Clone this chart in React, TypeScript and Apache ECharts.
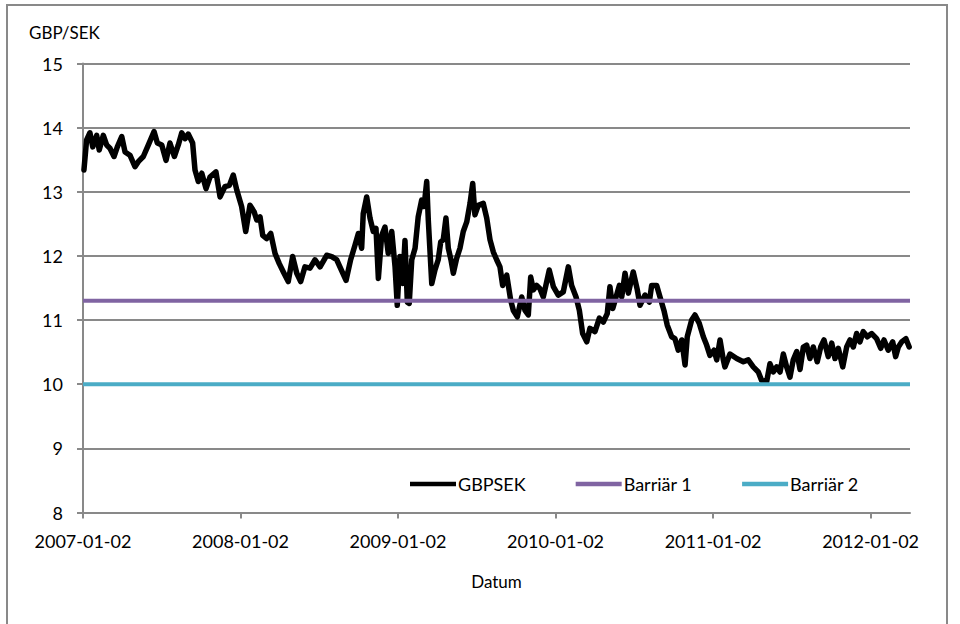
import React, { useEffect, useRef } from "react";
import * as echarts from "echarts";

// Time in decimal years measured from 2007-01-02 (2007.000 = 2007-01-02)
const years: number[] = [
  2007.006, 2007.023, 2007.044, 2007.062, 2007.087, 2007.103, 2007.129, 2007.15, 2007.171, 2007.197,
  2007.218, 2007.246, 2007.267, 2007.298, 2007.33, 2007.351, 2007.383, 2007.415, 2007.451, 2007.472,
  2007.5, 2007.527, 2007.552, 2007.58, 2007.605, 2007.627, 2007.648, 2007.668, 2007.696, 2007.711,
  2007.732, 2007.754, 2007.781, 2007.806, 2007.844, 2007.87, 2007.901, 2007.929, 2007.954, 2007.976,
  2008.007, 2008.033, 2008.06, 2008.086, 2008.103, 2008.124, 2008.141, 2008.166, 2008.192, 2008.219,
  2008.246, 2008.272, 2008.303, 2008.331, 2008.357, 2008.382, 2008.409, 2008.441, 2008.473, 2008.505,
  2008.547, 2008.579, 2008.611, 2008.631, 2008.67, 2008.699, 2008.727, 2008.748, 2008.769, 2008.779,
  2008.801, 2008.822, 2008.843, 2008.86, 2008.875, 2008.896, 2008.917, 2008.938, 2008.96, 2008.981,
  2008.995, 2009.012, 2009.029, 2009.044, 2009.059, 2009.071, 2009.087, 2009.108, 2009.128, 2009.15,
  2009.165, 2009.182, 2009.192, 2009.214, 2009.234, 2009.255, 2009.271, 2009.287, 2009.304, 2009.319,
  2009.336, 2009.351, 2009.372, 2009.393, 2009.414, 2009.436, 2009.457, 2009.474, 2009.488, 2009.509,
  2009.541, 2009.563, 2009.584, 2009.605, 2009.626, 2009.647, 2009.664, 2009.69, 2009.715, 2009.732,
  2009.757, 2009.785, 2009.806, 2009.827, 2009.842, 2009.859, 2009.88, 2009.901, 2009.922, 2009.96,
  2009.986, 2010.017, 2010.049, 2010.081, 2010.102, 2010.13, 2010.151, 2010.172, 2010.198, 2010.218,
  2010.25, 2010.278, 2010.303, 2010.328, 2010.345, 2010.363, 2010.384, 2010.405, 2010.42, 2010.441,
  2010.462, 2010.493, 2010.519, 2010.536, 2010.568, 2010.595, 2010.61, 2010.642, 2010.663, 2010.688,
  2010.709, 2010.737, 2010.758, 2010.779, 2010.801, 2010.822, 2010.836, 2010.864, 2010.885, 2010.912,
  2010.938, 2010.959, 2010.98, 2011.006, 2011.023, 2011.044, 2011.065, 2011.075, 2011.107, 2011.15,
  2011.192, 2011.223, 2011.255, 2011.287, 2011.308, 2011.34, 2011.361, 2011.382, 2011.404, 2011.425,
  2011.446, 2011.467, 2011.488, 2011.509, 2011.531, 2011.552, 2011.573, 2011.594, 2011.615, 2011.636,
  2011.661, 2011.683, 2011.704, 2011.731, 2011.753, 2011.774, 2011.795, 2011.823, 2011.848, 2011.869,
  2011.89, 2011.911, 2011.932, 2011.953, 2011.979, 2012.007, 2012.038, 2012.064, 2012.085, 2012.112,
  2012.14, 2012.159, 2012.176, 2012.197, 2012.224, 2012.245,
];

const gbpsek: number[] = [
  13.34, 13.81, 13.92, 13.7, 13.88, 13.65, 13.88, 13.73, 13.68, 13.55,
  13.7, 13.86, 13.62, 13.57, 13.39, 13.47, 13.55, 13.73, 13.94, 13.76,
  13.73, 13.49, 13.76, 13.55, 13.73, 13.92, 13.83, 13.9, 13.76, 13.34,
  13.16, 13.29, 13.05, 13.23, 13.31, 12.92, 13.08, 13.1, 13.26, 13.03,
  12.77, 12.38, 12.79, 12.69, 12.56, 12.61, 12.32, 12.27, 12.35, 12.04,
  11.88, 11.75, 11.6, 11.99, 11.73, 11.6, 11.83, 11.81, 11.94, 11.83,
  12.01, 11.99, 11.94, 11.83, 11.62, 11.94, 12.17, 12.35, 12.12, 12.66,
  12.92, 12.59, 12.38, 12.43, 11.65, 12.32, 12.45, 12.04, 12.38, 11.83,
  11.23, 11.99, 11.57, 12.24, 11.28, 11.26, 11.94, 12.12, 12.61, 12.87,
  12.77, 13.16, 12.56, 11.57, 11.78, 11.94, 12.22, 12.25, 12.59, 12.12,
  11.94, 11.73, 11.96, 12.12, 12.38, 12.53, 12.82, 13.13, 12.64, 12.79,
  12.82, 12.59, 12.25, 12.06, 11.94, 11.83, 11.54, 11.7, 11.31, 11.15,
  11.05, 11.36, 11.15, 11.08, 11.67, 11.47, 11.54, 11.49, 11.36, 11.78,
  11.52, 11.39, 11.44, 11.83, 11.54, 11.36, 11.15, 10.79, 10.66, 10.87,
  10.82, 11.03, 10.97, 11.1, 11.52, 11.18, 11.36, 11.54, 11.36, 11.73,
  11.42, 11.75, 11.47, 11.23, 11.39, 11.28, 11.54, 11.54, 11.36, 11.15,
  10.92, 10.74, 10.71, 10.53, 10.69, 10.3, 10.74, 11.0, 11.08, 10.95,
  10.74, 10.61, 10.45, 10.53, 10.38, 10.69, 10.38, 10.27, 10.47, 10.4,
  10.35, 10.38, 10.27, 10.19, 10.06, 10.04, 10.32, 10.19, 10.27, 10.19,
  10.47, 10.27, 10.11, 10.38, 10.51, 10.23, 10.58, 10.61, 10.4, 10.58,
  10.35, 10.58, 10.69, 10.43, 10.64, 10.4, 10.56, 10.27, 10.58, 10.69,
  10.58, 10.79, 10.66, 10.82, 10.74, 10.79, 10.71, 10.56, 10.69, 10.53,
  10.66, 10.43, 10.58, 10.66, 10.71, 10.58,
];

const barrier1 = 11.3;
const barrier2 = 10.0;
const xStart = 2007.0;
const xEnd = 2012.25;
const yearTicks: number[] = [2007, 2008, 2009, 2010, 2011, 2012];
const seriesNames: string[] = ["GBPSEK", "Barriär 1", "Barriär 2"];

const FONT = "Lato";
const FS = 18;
const GRAY = "#898989";

export default function App() {
  const ref = useRef<HTMLDivElement>(null);
  useEffect(() => {
    if (!ref.current) return;
    const chart = echarts.init(ref.current, null, { renderer: "svg" });
    const main = years.map((t, i) => [t, gbpsek[i]]);
    chart.setOption({
      animation: false,
      backgroundColor: "#fff",
      textStyle: { fontFamily: FONT, color: "#000" },
      title: {
        text: "GBP/SEK",
        left: 24,
        top: 19,
        textStyle: { fontFamily: FONT, fontSize: 17, fontWeight: "normal", color: "#000" },
      },
      graphic: [
        {
          type: "rect",
          shape: { x: 7, y: 5, width: 940, height: 700 },
          style: { fill: "none", stroke: GRAY, lineWidth: 2 },
          silent: true,
        },
      ],
      legend: {
        left: 405,
        top: 470,
        icon: "rect",
        itemWidth: 46,
        itemHeight: 4.5,
        itemGap: 50,
        data: seriesNames,
        textStyle: { fontFamily: FONT, fontSize: FS, color: "#000", padding: [0, 0, 0, -3] },
      },
      grid: { left: 83, right: 50, top: 63.5, bottom: 111.5 },
      xAxis: {
        type: "value",
        min: xStart,
        max: xEnd,
        name: "Datum",
        nameLocation: "middle",
        nameGap: 60,
        nameTextStyle: { fontFamily: FONT, fontSize: 17, color: "#000" },
        axisLine: { show: true, lineStyle: { color: GRAY, width: 2 } },
        axisTick: { show: true, length: 6, lineStyle: { color: GRAY, width: 2 }, customValues: yearTicks },
        axisLabel: {
          customValues: yearTicks,
          formatter: (v: number) => `${Math.round(v)}-01-02`,
          fontFamily: FONT,
          fontSize: FS,
          color: "#000",
          margin: 19,
        },
        splitLine: { show: false },
      },
      yAxis: {
        type: "value",
        min: 8,
        max: 15,
        interval: 1,
        axisLine: { show: true, lineStyle: { color: GRAY, width: 2 } },
        axisTick: { show: true, length: 6, lineStyle: { color: GRAY, width: 2 } },
        axisLabel: { fontFamily: FONT, fontSize: FS, color: "#000", margin: 20 },
        splitLine: { show: true, lineStyle: { color: GRAY, width: 2 } },
      },
      series: [
        {
          name: seriesNames[0],
          type: "line",
          data: main,
          showSymbol: false,
          symbol: "none",
          color: "#000",
          lineStyle: { color: "#000", width: 5.5, join: "round", cap: "round" },
        },
        {
          name: seriesNames[1],
          type: "line",
          data: [[xStart, barrier1], [xEnd, barrier1]],
          showSymbol: false,
          symbol: "none",
          color: "#8064A2",
          lineStyle: { color: "#8064A2", width: 4 },
        },
        {
          name: seriesNames[2],
          type: "line",
          data: [[xStart, barrier2], [xEnd, barrier2]],
          showSymbol: false,
          symbol: "none",
          color: "#4BACC6",
          lineStyle: { color: "#4BACC6", width: 4 },
        },
      ],
    });
    return () => chart.dispose();
  }, []);
  return (
    <div
      ref={ref}
      style={{ position: "absolute", left: 0, top: 0, width: 960, height: 624 }}
    />
  );
}
